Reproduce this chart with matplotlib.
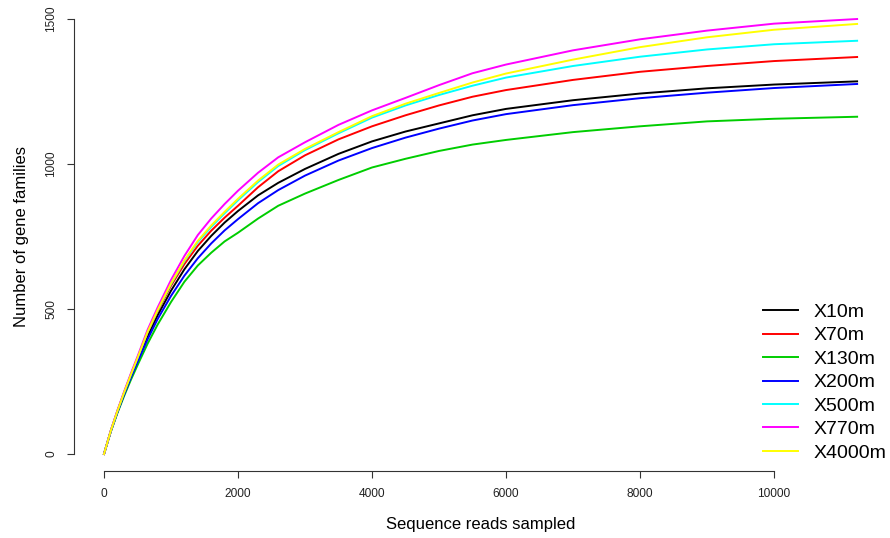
import matplotlib
matplotlib.use("Agg")
import matplotlib.pyplot as plt

plt.rcParams['font.family'] = ['Liberation Sans', 'DejaVu Sans']

# reads sampled (x) and gene families found at each depth
reads = [0, 100, 200, 300, 400, 500, 650, 800, 1000, 1200, 1400, 1600, 1800,
         2000, 2300, 2600, 3000, 3500, 4000, 4500, 5000, 5500, 6000, 7000,
         8000, 9000, 10000, 11240]

x10m = [0, 78, 146, 208, 267, 323, 405, 478, 563, 637, 700, 752, 798,
        838, 892, 935, 983, 1035, 1078, 1112, 1140, 1168, 1190, 1220,
        1243, 1261, 1274, 1285]
x70m = [0, 79, 148, 211, 272, 330, 418, 492, 580, 655, 718, 770, 815,
        856, 920, 975, 1030, 1085, 1130, 1168, 1202, 1232, 1255, 1290,
        1318, 1338, 1355, 1369]
x130m = [0, 76, 141, 200, 255, 306, 380, 446, 524, 594, 650, 694, 733,
         763, 812, 856, 898, 945, 988, 1018, 1045, 1067, 1083, 1110,
         1130, 1147, 1156, 1163]
x200m = [0, 77, 144, 205, 263, 317, 395, 465, 545, 615, 675, 726, 771,
         810, 865, 910, 960, 1012, 1055, 1091, 1122, 1150, 1172, 1203,
         1227, 1246, 1262, 1276]
x500m = [0, 79, 148, 212, 273, 331, 420, 495, 586, 665, 731, 783, 830,
         875, 938, 993, 1048, 1106, 1160, 1202, 1238, 1270, 1298, 1338,
         1370, 1395, 1413, 1425]
x770m = [0, 80, 150, 215, 277, 336, 428, 505, 600, 683, 755, 812, 862,
         908, 970, 1023, 1075, 1135, 1185, 1228, 1272, 1313, 1343, 1392,
         1430, 1460, 1484, 1500]
x4000m = [0, 79, 148, 212, 273, 331, 421, 496, 588, 668, 735, 788, 835,
          880, 943, 998, 1052, 1110, 1165, 1208, 1245, 1281, 1312, 1360,
          1403, 1437, 1463, 1483]

sites = ["X10m", "X70m", "X130m", "X200m", "X500m", "X770m", "X4000m"]
series = [x10m, x70m, x130m, x200m, x500m, x770m, x4000m]
colores = ["black", "#FF0000", "#00CD00", "#0000FF", "#00FFFF", "#FF00FF", "#FFFF00"]

fig = plt.figure(figsize=(8.9, 5.38), dpi=100)
ax = fig.add_axes([0.083, 0.1238, 0.9139, 0.8732])

for nombre, vals, col in zip(sites, series, colores):
    ax.plot(reads, vals, color=col, lw=1.4, label=nombre)

# R-like axes: 4% padding, axis lines only across the tick range
xmax = max(reads)
ax.set_xlim(-0.04 * xmax, 1.04 * xmax)
ax.set_ylim(-0.04 * 1500, 1.04 * 1500)
ax.set_xticks([0, 2000, 4000, 6000, 8000, 10000])
ax.set_yticks([0, 500, 1000, 1500])
ax.spines['top'].set_visible(False)
ax.spines['right'].set_visible(False)
ax.spines['bottom'].set_bounds(0, 10000)
ax.spines['left'].set_bounds(0, 1500)
ax.spines['bottom'].set_color('#333333')
ax.spines['left'].set_color('#333333')
ax.tick_params(direction='out', length=5, width=0.8, colors='#333333',
               labelsize=8.6, labelcolor='#222222', pad=7)
for lab in ax.get_yticklabels():
    lab.set_rotation(90)
    lab.set_va('center')

ax.set_xlabel("Sequence reads sampled", fontsize=12, labelpad=12)
ax.set_ylabel("Number of gene families", fontsize=12, labelpad=12)

ax.legend(loc='lower right', bbox_to_anchor=(1.011, 0.0), frameon=False,
          fontsize=14, handlelength=1.8, handletextpad=0.8, labelspacing=0.3,
          borderaxespad=0.1)

fig.savefig("out.png", dpi=100)
